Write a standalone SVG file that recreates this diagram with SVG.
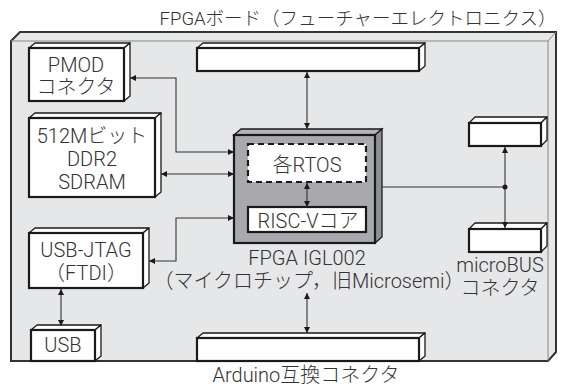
<svg xmlns="http://www.w3.org/2000/svg" width="562" height="387" viewBox="0 0 562 387">
<defs>
<style>
text{font-family:"Roboto","Noto Sans CJK JP",sans-serif;font-weight:300;font-size:20px;fill:#333;text-anchor:middle}
.bf{fill:#fff;stroke:#1a1a1a;stroke-width:2.2}
.bs{fill:#fff;stroke:#1a1a1a;stroke-width:1.3;stroke-linejoin:round}
.ln{fill:none;stroke:#333;stroke-width:1.1}
</style>
<marker id="ah" viewBox="0 0 10 10" refX="10" refY="5" markerWidth="8" markerHeight="6" markerUnits="userSpaceOnUse" orient="auto-start-reverse">
<path d="M0,0 L10,5 L0,10 z" fill="#1a1a1a"/>
</marker>
</defs>
<g id="board">
<polygon points="11,41 20,32 556,32 556,352 548,361 11,361" fill="#e6e7e8" stroke="#333" stroke-width="2"/>
<polyline points="11,41 548,41 548,361" fill="none" stroke="#888" stroke-width="1"/>
<line x1="548" y1="41" x2="556" y2="32" stroke="#888" stroke-width="1"/>
<text x="358" y="25" style="font-size:18.5px">FPGAボード（フューチャーエレクトロニクス）</text>
</g>
<g id="pmod">
<polygon class="bs" points="29,48 35,43 130,43 124,48"/>
<polygon class="bs" points="124,48 130,43 130,96 124,101"/>
<rect class="bf" x="29" y="48" width="95" height="53"/>
<text x="76" y="72">PMOD</text>
<text x="76" y="94">コネクタ</text>
</g>
<g id="sdram">
<polygon class="bs" points="29,118 35,113 161,113 155,118"/>
<polygon class="bs" points="155,118 161,113 161,192 155,197"/>
<rect class="bf" x="29" y="118" width="126" height="79"/>
<text x="92" y="143">512Mビット</text>
<text x="92" y="166">DDR2</text>
<text x="92" y="189">SDRAM</text>
</g>
<g id="usbjtag">
<polygon class="bs" points="29,233 35,228 149,228 143,233"/>
<polygon class="bs" points="143,233 149,228 149,283 143,288"/>
<rect class="bf" x="29" y="233" width="114" height="55"/>
<text x="86" y="257">USB-JTAG</text>
<text x="86" y="280">（FTDI）</text>
</g>
<g id="usb">
<polygon class="bs" points="31,330 37,325 101,325 95,330"/>
<polygon class="bs" points="95,330 101,325 101,356 95,361"/>
<rect class="bf" x="31" y="330" width="64" height="31"/>
<text x="63" y="352">USB</text>
</g>
<g id="topbar">
<polygon class="bs" points="197,48 203,43 425,43 419,48"/>
<polygon class="bs" points="419,48 425,43 425,66 419,71"/>
<rect class="bf" x="197" y="48" width="222" height="23"/>
</g>
<g id="arduino">
<polygon class="bs" points="197,338 203,333 425,333 419,338"/>
<polygon class="bs" points="419,338 425,333 425,356 419,361"/>
<rect class="bf" x="197" y="338" width="222" height="23"/>
<text x="306" y="382">Arduino互換コネクタ</text>
</g>
<g id="rightbox">
<polygon class="bs" points="469,123 475,117 547,117 541,123"/>
<polygon class="bs" points="541,123 547,117 547,140 541,146"/>
<rect class="bf" x="469" y="123" width="72" height="23"/>
</g>
<g id="microbus">
<polygon class="bs" points="469,229 475,223 547,223 541,229"/>
<polygon class="bs" points="541,229 547,223 547,246 541,252"/>
<rect class="bf" x="469" y="229" width="72" height="23"/>
<text x="500" y="272">microBUS</text>
<text x="500" y="295">コネクタ</text>
</g>
<g id="fpga">
<polygon points="234,135 241,129 382,129 375,135" fill="#b3b4b6" stroke="#1a1a1a" stroke-width="1.3"/>
<polygon points="375,135 382,129 382,237 375,243" fill="#8f9194" stroke="#1a1a1a" stroke-width="1.3"/>
<rect x="234" y="135" width="141" height="108" fill="#a7a9ac" stroke="#1a1a1a" stroke-width="2.2"/>
<text x="307" y="265">FPGA IGL002</text>
<text x="309" y="288">（マイクロチップ，旧Microsemi）</text>
</g>
<g id="rtos">
<rect x="248" y="144" width="118" height="38" fill="#fff" stroke="#1a1a1a" stroke-width="2.2" stroke-dasharray="6,4"/>
<text x="307" y="172">各RTOS</text>
</g>
<g id="riscv">
<rect x="248" y="207" width="118" height="25" fill="#fff" stroke="#1a1a1a" stroke-width="2.2"/>
<text x="308" y="228">RISC-Vコア</text>
</g>
<g id="connectors">
<polyline class="ln" points="130,78 176,78 176,152 234,152" marker-start="url(#ah)" marker-end="url(#ah)"/>
<line class="ln" x1="161" y1="174" x2="234" y2="174" marker-start="url(#ah)" marker-end="url(#ah)"/>
<polyline class="ln" points="149,261 176,261 176,218 234,218" marker-start="url(#ah)" marker-end="url(#ah)"/>
<line class="ln" x1="307" y1="72" x2="307" y2="129" marker-start="url(#ah)" marker-end="url(#ah)"/>
<line class="ln" x1="307" y1="183" x2="307" y2="207" marker-start="url(#ah)" marker-end="url(#ah)"/>
<line class="ln" x1="307" y1="293" x2="307" y2="333" marker-start="url(#ah)" marker-end="url(#ah)"/>
<line class="ln" x1="382" y1="187" x2="505" y2="187"/>
<line class="ln" x1="505" y1="147" x2="505" y2="228" marker-start="url(#ah)" marker-end="url(#ah)"/>
<circle cx="505" cy="187" r="2.5" fill="#1a1a1a"/>
<line class="ln" x1="61" y1="289" x2="61" y2="326" marker-start="url(#ah)" marker-end="url(#ah)"/>
</g>
</svg>
